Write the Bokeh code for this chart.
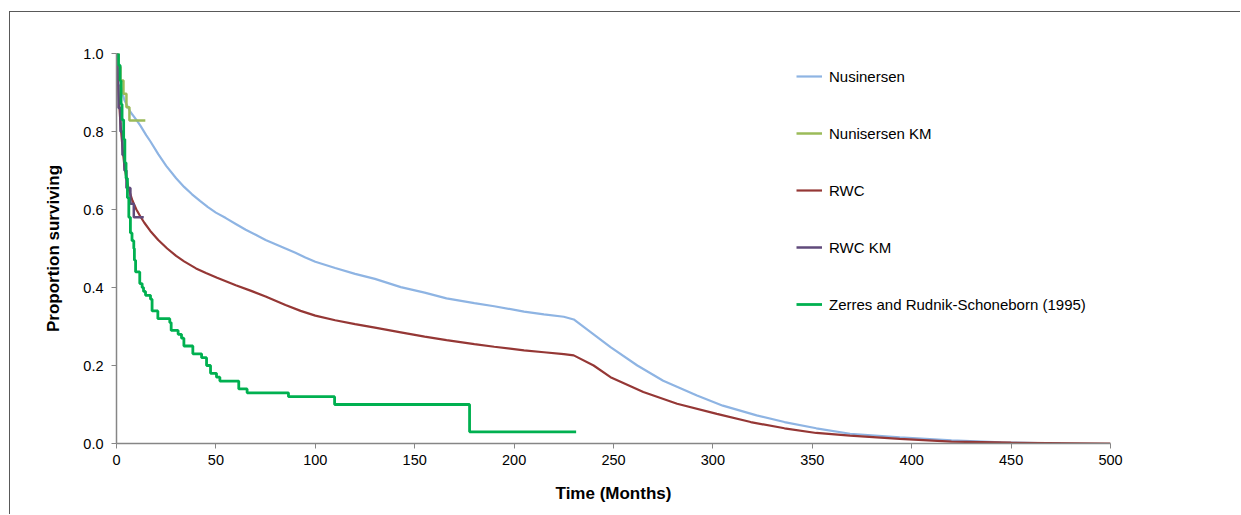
from bokeh.plotting import figure
from bokeh.models import Legend, LegendItem, Range1d, FixedTicker, NumeralTickFormatter
from bokeh.embed import file_html
from bokeh.resources import INLINE

# ---- data ----
nus_t = [0, 1, 2, 4, 7, 10, 12, 15, 17, 21, 25, 30, 34, 38, 42, 46, 50, 55, 60, 65, 70, 75, 80, 85, 90, 95,
         100, 110, 120, 130, 143, 155, 166, 180, 190, 205, 215, 225, 230, 240, 248.5, 262, 275, 292, 305,
         322, 336, 352, 369, 394, 420, 445, 475]
nus_s = [1.0, 0.96, 0.92, 0.88, 0.85, 0.83, 0.815, 0.79, 0.775, 0.742, 0.712, 0.68, 0.658, 0.639, 0.622,
         0.606, 0.592, 0.578, 0.563, 0.548, 0.535, 0.522, 0.511, 0.5, 0.489, 0.477, 0.466, 0.45, 0.435,
         0.422, 0.401, 0.387, 0.372, 0.36, 0.352, 0.338, 0.331, 0.325, 0.318, 0.28, 0.247, 0.2, 0.161,
         0.123, 0.097, 0.072, 0.055, 0.039, 0.025, 0.016, 0.008, 0.003, 0.0]

rwc_t = [0, 1, 2, 3, 4, 5, 6, 8, 10, 12, 14, 17, 21, 25.5, 30, 34, 40, 45, 50.6, 60, 67.4, 75, 85, 92.6,
         100, 110, 120, 130, 143, 155, 166, 180, 190, 205, 215, 225, 230, 240, 248.5, 265, 282, 302, 319,
         336, 352, 369, 394, 420, 450, 500]
rwc_s = [1.0, 0.9, 0.82, 0.76, 0.71, 0.68, 0.655, 0.623, 0.6, 0.582, 0.566, 0.545, 0.522, 0.5, 0.481,
         0.467, 0.449, 0.437, 0.425, 0.406, 0.392, 0.377, 0.355, 0.34, 0.328, 0.316, 0.306, 0.297, 0.285,
         0.274, 0.265, 0.255, 0.248, 0.239, 0.234, 0.229, 0.226, 0.2, 0.17, 0.132, 0.102, 0.076, 0.055,
         0.039, 0.027, 0.02, 0.012, 0.005, 0.002, 0.0]

nuskm_t = [0, 1, 2, 3.5, 5, 6.5, 14.5]
nuskm_s = [1.0, 0.966, 0.931, 0.897, 0.862, 0.828, 0.828]

rwckm_t = [0, 0.5, 1, 2, 3, 4, 5, 7, 8.7, 13.7]
rwckm_s = [1.0, 0.92, 0.86, 0.8, 0.74, 0.7, 0.655, 0.615, 0.58, 0.58]

zr_t = [0, 1.0, 1.8, 2.3, 2.8, 3.6, 4.2, 4.8, 5.5, 6.2, 7.0, 7.8, 8.7, 9.0, 9.6, 11.7, 12.9, 13.6, 14.6,
        17.1, 17.9, 20.8, 26.8, 27.5, 31.0, 32.7, 33.9, 38.4, 42.8, 45.3, 47.3, 50.3, 52.0, 61.5, 65.7,
        86.5, 109.7, 177.6, 231.2]
zr_s = [1.0, 0.97, 0.93, 0.87, 0.83, 0.78, 0.72, 0.68, 0.63, 0.58, 0.54, 0.52, 0.5, 0.47, 0.44, 0.41,
        0.4, 0.39, 0.38, 0.37, 0.34, 0.32, 0.31, 0.29, 0.28, 0.27, 0.25, 0.23, 0.22, 0.2, 0.18, 0.17,
        0.16, 0.14, 0.13, 0.12, 0.1, 0.03, 0.03]

x_ticks = [0, 50, 100, 150, 200, 250, 300, 350, 400, 450, 500]
y_ticks = [0.0, 0.2, 0.4, 0.6, 0.8, 1.0]

FONT = "Liberation Sans"

p = figure(width=1231, height=503, output_backend="svg", toolbar_location=None,
           x_range=Range1d(0, 500), y_range=Range1d(0, 1.0),
           min_border_left=106, min_border_right=131, min_border_top=41, min_border_bottom=72,
           margin=(11, 0, 0, 9))
p.styles = {"border-top": "1px solid #595959", "border-left": "1px solid #595959"}
p.outline_line_color = None
p.xgrid.grid_line_color = None
p.ygrid.grid_line_color = None

for ax in (p.xaxis[0], p.yaxis[0]):
    ax.axis_line_color = "#868686"
    ax.axis_line_width = 1.5
    ax.major_tick_line_color = "#868686"
    ax.major_tick_in = 0
    ax.major_tick_out = 5
    ax.minor_tick_line_color = None
    ax.major_label_text_font = FONT
    ax.major_label_text_font_size = "14.5px"
    ax.major_label_text_color = "#000000"
    ax.axis_label_text_font = FONT
    ax.axis_label_text_font_size = "17px"
    ax.axis_label_text_font_style = "bold"
    ax.axis_label_text_color = "#000000"

p.xaxis.ticker = FixedTicker(ticks=x_ticks)
p.yaxis.ticker = FixedTicker(ticks=y_ticks)
p.yaxis.formatter = NumeralTickFormatter(format="0.0")
p.xaxis.axis_label = "Time (Months)"
p.yaxis.axis_label = "Proportion surviving"
p.xaxis.major_label_standoff = 6
p.yaxis.major_label_standoff = 8
p.xaxis.axis_label_standoff = 16
p.yaxis.axis_label_standoff = 17

r_nus = p.line(nus_t, nus_s, line_color="#8EB4E3", line_width=2.2)
r_rwc = p.line(rwc_t, rwc_s, line_color="#953735", line_width=2.2)
r_nuskm = p.step(nuskm_t, nuskm_s, mode="after", line_color="#9BBB59", line_width=2.5)
r_rwckm = p.step(rwckm_t, rwckm_s, mode="after", line_color="#604A7B", line_width=2.5)
r_zr = p.step(zr_t, zr_s, mode="after", line_color="#00B050", line_width=2.8)

legend = Legend(items=[
    LegendItem(label="Nusinersen", renderers=[r_nus]),
    LegendItem(label="Nunisersen KM", renderers=[r_nuskm]),
    LegendItem(label="RWC", renderers=[r_rwc]),
    LegendItem(label="RWC KM", renderers=[r_rwckm]),
    LegendItem(label="Zerres and Rudnik-Schoneborn (1995)", renderers=[r_zr]),
], location=(680, 129))
legend.border_line_color = None
legend.background_fill_alpha = 0
legend.label_text_font = FONT
legend.label_text_font_size = "15px"
legend.label_text_color = "#000000"
legend.glyph_width = 26
legend.label_standoff = 7
legend.spacing = 37
legend.padding = 10
legend.margin = 0
p.add_layout(legend, "center")

open("out.html", "w").write(file_html(p, INLINE))
